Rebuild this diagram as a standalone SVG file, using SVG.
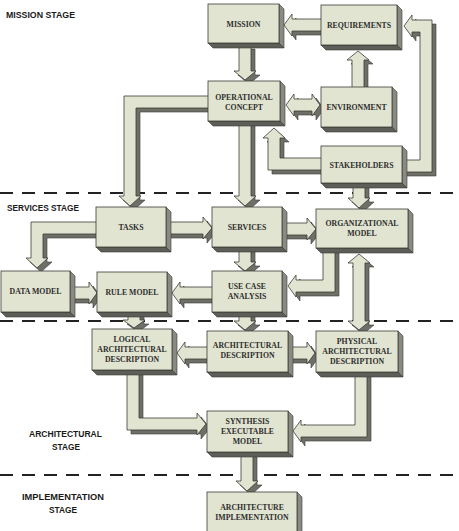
<svg xmlns="http://www.w3.org/2000/svg" xmlns:xlink="http://www.w3.org/1999/xlink" width="459" height="531" viewBox="0 0 459 531">
<style>
.bf{fill:#e1e4d0;stroke:#3a3a36;stroke-width:0.8}
.bs{fill:#8a8a82;stroke:#3a3a36;stroke-width:0.6}
.bb{fill:#5e5e58;stroke:#3a3a36;stroke-width:0.6}
.afr{fill:#e1e4d0;stroke:#3a3a36;stroke-width:0.8;stroke-linejoin:miter}
.ash{fill:#6f6f68;stroke:#3a3a36;stroke-width:0.6}
.lbl{font-family:"Liberation Serif","Times New Roman",serif;font-weight:bold;font-size:7.8px;fill:#2e2e2e;text-anchor:middle}
.stg{font-family:"Liberation Sans",Arial,sans-serif;font-weight:bold;font-size:9.8px;fill:#1a1a1a}
.dash{stroke:#222;stroke-width:2;stroke-dasharray:13 9;fill:none}
</style>
<defs>
<polygon id="c1" points="325,19 292,19 292,14 284,25 292,36 292,31 325,31"/>
<polygon id="c2" points="239,45 251,45 251,71 256,71 245,80 234,71 239,71"/>
<polygon id="c3" points="352,90 352,60 347,60 358,51 369,60 364,60 364,90"/>
<polygon id="c4" points="286,105 294,94 294,99 312,99 312,94 320,105 312,116 312,111 294,111 294,116"/>
<polygon id="c5" points="325,158 280,158 280,138 285,138 274,128 263,138 268,138 268,170 325,170"/>
<polygon id="c6" points="400,160 420,160 420,32 412,32 412,37 404,26 412,15 412,20 432,20 432,172 400,172"/>
<polygon id="c7" points="212,96 124,96 124,196 119,196 130,206 141,196 136,196 136,108 212,108"/>
<polygon id="c8" points="239,118 251,118 251,196 256,196 245,206 234,196 239,196"/>
<polygon id="c9" points="353,183 365,183 365,198 370,198 359,208 348,198 353,198"/>
<polygon id="c10" points="166,222 203,222 203,217 212,228 203,239 203,234 166,234"/>
<polygon id="c11" points="282,223 307,223 307,218 316,229 307,240 307,235 282,235"/>
<polygon id="c12" points="100,222 31,222 31,258 26,258 37,268 48,258 43,258 43,234 100,234"/>
<polygon id="c13" points="239,247 251,247 251,262 256,262 245,271 234,262 239,262"/>
<polygon id="c14" points="70,287 89,287 89,282 97,293 89,304 89,299 70,299"/>
<polygon id="c15" points="214,287 180,287 180,282 172,293 180,304 180,299 214,299"/>
<polygon id="c16" points="323,246 335,246 335,292 296,292 296,297 288,286 296,275 296,280 323,280"/>
<polygon id="c17" points="359,254 370,263 365,263 365,321 370,321 359,330 348,321 353,321 353,263 348,263"/>
<polygon id="c18" points="128,310 140,310 140,320 145,320 134,328 123,320 128,320"/>
<polygon id="c19" points="239,310 251,310 251,321 256,321 245,330 234,321 239,321"/>
<polygon id="c20" points="210,347 185,347 185,342 177,353 185,364 185,359 210,359"/>
<polygon id="c21" points="288,347 307,347 307,342 315,353 307,364 307,359 288,359"/>
<polygon id="c22" points="127,366 139,366 139,418 197,418 197,413 206,424 197,435 197,430 127,430"/>
<polygon id="c23" points="355,368 367,368 367,437 301,437 301,442 293,431 301,420 301,425 355,425"/>
<polygon id="c24" points="241,450 253,450 253,481 258,481 247,491 236,481 241,481"/>
</defs>

<g id="stages">
<line class="dash" x1="0" y1="193" x2="459" y2="193"/>
<line class="dash" x1="0" y1="321" x2="459" y2="321"/>
<line class="dash" x1="0" y1="475" x2="459" y2="475"/>
<text class="stg" x="6" y="17.5" textLength="69" lengthAdjust="spacingAndGlyphs">MISSION STAGE</text>
<text class="stg" x="7" y="210.5" textLength="72" lengthAdjust="spacingAndGlyphs">SERVICES STAGE</text>
<text class="stg" x="29" y="436.5" textLength="73" lengthAdjust="spacingAndGlyphs">ARCHITECTURAL</text>
<text class="stg" x="52" y="449.5" textLength="28" lengthAdjust="spacingAndGlyphs">STAGE</text>
<text class="stg" x="22" y="499.5" textLength="82" lengthAdjust="spacingAndGlyphs">IMPLEMENTATION</text>
<text class="stg" x="49" y="512.5" textLength="28" lengthAdjust="spacingAndGlyphs">STAGE</text>
</g>

<g id="connectors">
<use xlink:href="#c1" class="ash" transform="translate(4,4)"/><use xlink:href="#c1" class="afr"/>
<use xlink:href="#c2" class="ash" transform="translate(4,4)"/><use xlink:href="#c2" class="afr"/>
<use xlink:href="#c3" class="ash" transform="translate(4,4)"/><use xlink:href="#c3" class="afr"/>
<use xlink:href="#c4" class="ash" transform="translate(4,4)"/><use xlink:href="#c4" class="afr"/>
<use xlink:href="#c5" class="ash" transform="translate(4,4)"/><use xlink:href="#c5" class="afr"/>
<use xlink:href="#c6" class="ash" transform="translate(4,4)"/><use xlink:href="#c6" class="afr"/>
<use xlink:href="#c7" class="ash" transform="translate(4,4)"/><use xlink:href="#c7" class="afr"/>
<use xlink:href="#c8" class="ash" transform="translate(4,4)"/><use xlink:href="#c8" class="afr"/>
<use xlink:href="#c9" class="ash" transform="translate(4,4)"/><use xlink:href="#c9" class="afr"/>
<use xlink:href="#c10" class="ash" transform="translate(4,4)"/><use xlink:href="#c10" class="afr"/>
<use xlink:href="#c11" class="ash" transform="translate(4,4)"/><use xlink:href="#c11" class="afr"/>
<use xlink:href="#c12" class="ash" transform="translate(4,4)"/><use xlink:href="#c12" class="afr"/>
<use xlink:href="#c13" class="ash" transform="translate(4,4)"/><use xlink:href="#c13" class="afr"/>
<use xlink:href="#c14" class="ash" transform="translate(4,4)"/><use xlink:href="#c14" class="afr"/>
<use xlink:href="#c15" class="ash" transform="translate(4,4)"/><use xlink:href="#c15" class="afr"/>
<use xlink:href="#c16" class="ash" transform="translate(4,4)"/><use xlink:href="#c16" class="afr"/>
<use xlink:href="#c17" class="ash" transform="translate(4,4)"/><use xlink:href="#c17" class="afr"/>
<use xlink:href="#c18" class="ash" transform="translate(4,4)"/><use xlink:href="#c18" class="afr"/>
<use xlink:href="#c19" class="ash" transform="translate(4,4)"/><use xlink:href="#c19" class="afr"/>
<use xlink:href="#c20" class="ash" transform="translate(4,4)"/><use xlink:href="#c20" class="afr"/>
<use xlink:href="#c21" class="ash" transform="translate(4,4)"/><use xlink:href="#c21" class="afr"/>
<use xlink:href="#c22" class="ash" transform="translate(4,4)"/><use xlink:href="#c22" class="afr"/>
<use xlink:href="#c23" class="ash" transform="translate(4,4)"/><use xlink:href="#c23" class="afr"/>
<use xlink:href="#c24" class="ash" transform="translate(4,4)"/><use xlink:href="#c24" class="afr"/>
</g>

<g id="mission">
<polygon class="bs" points="279,4 284,9 284,48 279,43"/><polygon class="bb" points="208,43 279,43 284,48 213,48"/>
<rect class="bf" x="208" y="4" width="71" height="39"/>
<text class="lbl" x="243.5" y="26.5">MISSION</text>
</g>
<g id="requirements">
<polygon class="bs" points="397,5 402,10 402,50 397,45"/><polygon class="bb" points="321,45 397,45 402,50 326,50"/>
<rect class="bf" x="321" y="5" width="76" height="40"/>
<text class="lbl" x="359" y="27.5">REQUIREMENTS</text>
</g>
<g id="operational-concept">
<polygon class="bs" points="280,81 285,86 285,126 280,121"/><polygon class="bb" points="208,121 280,121 285,126 213,126"/>
<rect class="bf" x="208" y="81" width="72" height="40"/>
<text class="lbl" x="244" y="99.5">OPERATIONAL</text>
<text class="lbl" x="244" y="109.5">CONCEPT</text>
</g>
<g id="environment">
<polygon class="bs" points="392,87 397,92 397,132 392,127"/><polygon class="bb" points="321,127 392,127 397,132 326,132"/>
<rect class="bf" x="321" y="87" width="71" height="40"/>
<text class="lbl" x="356.5" y="109.5">ENVIRONMENT</text>
</g>
<g id="stakeholders">
<polygon class="bs" points="402,146 407,151 407,188 402,183"/><polygon class="bb" points="321,183 402,183 407,188 326,188"/>
<rect class="bf" x="321" y="146" width="81" height="37"/>
<text class="lbl" x="361.5" y="167.5">STAKEHOLDERS</text>
</g>
<g id="tasks">
<polygon class="bs" points="166,207 171,212 171,252 166,247"/><polygon class="bb" points="96,247 166,247 171,252 101,252"/>
<rect class="bf" x="96" y="207" width="70" height="40"/>
<text class="lbl" x="131" y="229.5">TASKS</text>
</g>
<g id="services">
<polygon class="bs" points="282,207 287,212 287,252 282,247"/><polygon class="bb" points="212,247 282,247 287,252 217,252"/>
<rect class="bf" x="212" y="207" width="70" height="40"/>
<text class="lbl" x="247" y="229.5">SERVICES</text>
</g>
<g id="organizational-model">
<polygon class="bs" points="408,209 413,214 413,253 408,248"/><polygon class="bb" points="316,248 408,248 413,253 321,253"/>
<rect class="bf" x="316" y="209" width="92" height="39"/>
<text class="lbl" x="362" y="226">ORGANIZATIONAL</text>
<text class="lbl" x="362" y="236">MODEL</text>
</g>
<g id="data-model">
<polygon class="bs" points="70,271 75,276 75,317 70,312"/><polygon class="bb" points="1,312 70,312 75,317 6,317"/>
<rect class="bf" x="1" y="271" width="69" height="41"/>
<text class="lbl" x="35.5" y="294">DATA MODEL</text>
</g>
<g id="rule-model">
<polygon class="bs" points="167,272 172,277 172,317 167,312"/><polygon class="bb" points="97,312 167,312 172,317 102,317"/>
<rect class="bf" x="97" y="272" width="70" height="40"/>
<text class="lbl" x="132" y="294.5">RULE MODEL</text>
</g>
<g id="use-case-analysis">
<polygon class="bs" points="282,271 287,276 287,317 282,312"/><polygon class="bb" points="212,312 282,312 287,317 217,317"/>
<rect class="bf" x="212" y="271" width="70" height="41"/>
<text class="lbl" x="247" y="289">USE CASE</text>
<text class="lbl" x="247" y="299">ANALYSIS</text>
</g>
<g id="logical-architectural-description">
<polygon class="bs" points="172,329 177,334 177,375 172,370"/><polygon class="bb" points="92,370 172,370 177,375 97,375"/>
<rect class="bf" x="92" y="329" width="80" height="41"/>
<text class="lbl" x="132" y="341.5">LOGICAL</text>
<text class="lbl" x="132" y="351.5">ARCHITECTURAL</text>
<text class="lbl" x="132" y="361.5">DESCRIPTION</text>
</g>
<g id="architectural-description">
<polygon class="bs" points="288,331 293,336 293,377 288,372"/><polygon class="bb" points="207,372 288,372 293,377 212,377"/>
<rect class="bf" x="207" y="331" width="81" height="41"/>
<text class="lbl" x="247.5" y="347.5">ARCHITECTURAL</text>
<text class="lbl" x="247.5" y="357.5">DESCRIPTION</text>
</g>
<g id="physical-architectural-description">
<polygon class="bs" points="398,331 403,336 403,377 398,372"/><polygon class="bb" points="316,372 398,372 403,377 321,377"/>
<rect class="bf" x="316" y="331" width="82" height="41"/>
<text class="lbl" x="357" y="343.5">PHYSICAL</text>
<text class="lbl" x="357" y="353.5">ARCHITECTURAL</text>
<text class="lbl" x="357" y="363.5">DESCRIPTION</text>
</g>
<g id="synthesis-executable-model">
<polygon class="bs" points="288,411 293,416 293,457 288,452"/><polygon class="bb" points="207,452 288,452 293,457 212,457"/>
<rect class="bf" x="207" y="411" width="81" height="41"/>
<text class="lbl" x="247.5" y="423.5">SYNTHESIS</text>
<text class="lbl" x="247.5" y="433.5">EXECUTABLE</text>
<text class="lbl" x="247.5" y="443.5">MODEL</text>
</g>
<g id="architecture-implementation">
<polygon class="bs" points="297,492 302,497 302,540 297,535"/>
<rect class="bf" x="207" y="492" width="90" height="45"/>
<text class="lbl" x="252" y="509.5">ARCHITECTURE</text>
<text class="lbl" x="252" y="519.5">IMPLEMENTATION</text>
</g>
</svg>
